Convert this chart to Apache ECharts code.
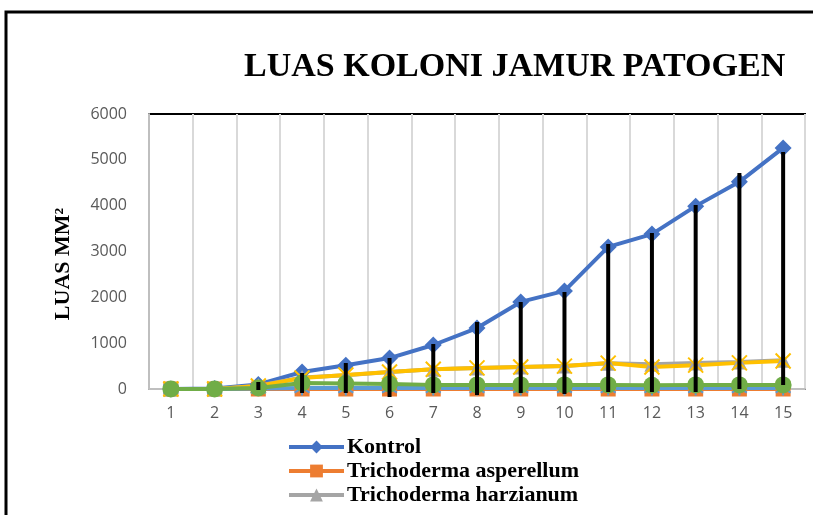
<!DOCTYPE html>
<html>
<head>
<meta charset="utf-8">
<script src="https://cdn.jsdelivr.net/npm/echarts@6/dist/echarts.min.js"></script>
<style>html,body{margin:0;padding:0;background:#fff;}#c{width:813px;height:515px;}</style>
</head>
<body>
<div id="c"></div>
<script>
const categories = ['1','2','3','4','5','6','7','8','9','10','11','12','13','14','15'];
const kontrol     = [0, 10, 100, 370, 520, 675, 960, 1330, 1900, 2140, 3100, 3380, 3990, 4520, 5260];
const asperellum  = [0, 0, 0, 0, 0, 0, 0, 0, 0, 0, 0, 0, 0, 0, 0];
const harzianum   = [0, 0, 70, 250, 300, 370, 430, 460, 480, 500, 560, 540, 570, 590, 630];
const seri4       = [0, 0, 65, 240, 305, 370, 430, 460, 480, 500, 565, 480, 520, 570, 610];
const seri5       = [0, 0, 10, 20, 20, 20, 20, 20, 20, 20, 20, 20, 20, 20, 20];
const seri6       = [0, 0, 20, 130, 120, 110, 90, 90, 90, 90, 90, 80, 90, 90, 90];
// black vertical bars: category index, top value, bottom value
const barCats     = [2, 3, 4, 5, 6, 7, 8, 9, 10, 11, 12, 13, 14];
const barTop      = [153, 349, 567, 676, 982, 1462, 1898, 2116, 3164, 3404, 4015, 4713, 5171];
const barBottom   = [-22, -87, -87, -175, -87, -131, -87, -109, -65, -65, -65, 0, 87];
const yTicks = { min: 0, max: 6000, interval: 1000 };

const chart = echarts.init(document.getElementById('c'));
const xPath = 'path://M0,0 L10,10 M10,0 L0,10';
const starPath = 'path://M5,0 L5,10 M0,2 L10,8 M10,2 L0,8';

function mk(name, data, color, symbol, size, extra) {
  return Object.assign({
    name: name, type: 'line', data: data, symbol: symbol, symbolSize: size,
    lineStyle: { color: color, width: 4 },
    itemStyle: { color: color },
    emphasis: { disabled: true }
  }, extra || {});
}

const barData = barCats.map((c, i) => [c, barTop[i], barBottom[i]]);

chart.setOption({
  animation: false,
  title: {
    text: 'LUAS KOLONI JAMUR PATOGEN',
    left: 244, top: 50, padding: 0,
    textStyle: { fontFamily: 'Liberation Serif', fontWeight: 'bold', fontSize: 34, color: '#000' }
  },
  graphic: [
    { type: 'rect', shape: { x: 6, y: 12, width: 1200, height: 1200 }, style: { fill: 'none', stroke: '#000', lineWidth: 3 }, z: 100 },
    { type: 'text', x: 63, y: 264, rotation: Math.PI / 2,
      style: { text: 'LUAS MM²', fontFamily: 'Liberation Serif', fontWeight: 'bold', fontSize: 22, fill: '#000', align: 'center', verticalAlign: 'middle' } }
  ],
  grid: { left: 149, right: 8, top: 114, bottom: 126, show: true, borderColor: '#000', borderWidth: 2 },
  legend: {
    data: ['Kontrol', 'Trichoderma asperellum', 'Trichoderma harzianum'],
    orient: 'vertical', left: 287, top: 436, height: 200, padding: 0,
    itemWidth: 55, itemHeight: 16, itemGap: 2,
    lineStyle: { width: 4 },
    textStyle: { fontFamily: 'Liberation Serif', fontWeight: 'bold', fontSize: 22, color: '#000', padding: [0, 0, 0, -2] }
  },
  xAxis: {
    type: 'category', data: categories, boundaryGap: true,
    axisLine: { show: true, lineStyle: { color: '#bfbfbf', width: 2 } },
    axisTick: { show: false },
    axisLabel: { fontFamily: 'Open Sans', fontSize: 16, color: '#595959', margin: 16, interval: 0 },
    splitLine: { show: true, interval: 0, lineStyle: { color: '#d9d9d9', width: 2 } }
  },
  yAxis: {
    type: 'value', min: yTicks.min, max: yTicks.max, interval: yTicks.interval,
    axisLine: { show: true, lineStyle: { color: '#bfbfbf', width: 2 } },
    axisTick: { show: false },
    axisLabel: { fontFamily: 'Open Sans', fontSize: 16, color: '#595959', margin: 22, formatter: function (v) { return String(v); } },
    splitLine: { show: false }
  },
  series: [
    mk('Kontrol', kontrol, '#4472C4', 'diamond', 17),
    mk('Trichoderma asperellum', asperellum, '#ED7D31', 'rect', 15),
    mk('Trichoderma harzianum', harzianum, '#A5A5A5', 'triangle', 15),
    mk('Seri 4', seri4, '#FFC000', xPath, 15, { itemStyle: { color: '#FFC000', borderColor: '#FFC000', borderWidth: 2 } }),
    mk('Seri 5', seri5, '#5B9BD5', starPath, 15, { itemStyle: { color: '#5B9BD5', borderColor: '#5B9BD5', borderWidth: 2 } }),
    mk('Seri 6', seri6, '#70AD47', 'circle', 17),
    {
      name: 'bars', type: 'custom', data: barData, clip: false, z: 10,
      encode: { x: 0, y: [1, 2] },
      renderItem: function (params, api) {
        const c = api.value(0);
        const p1 = api.coord([c, api.value(1)]);
        const p2 = api.coord([c, api.value(2)]);
        return { type: 'line', shape: { x1: p1[0], y1: p1[1], x2: p2[0], y2: p2[1] }, style: { stroke: '#000', lineWidth: 4 } };
      }
    }
  ]
});
</script>
</body>
</html>
